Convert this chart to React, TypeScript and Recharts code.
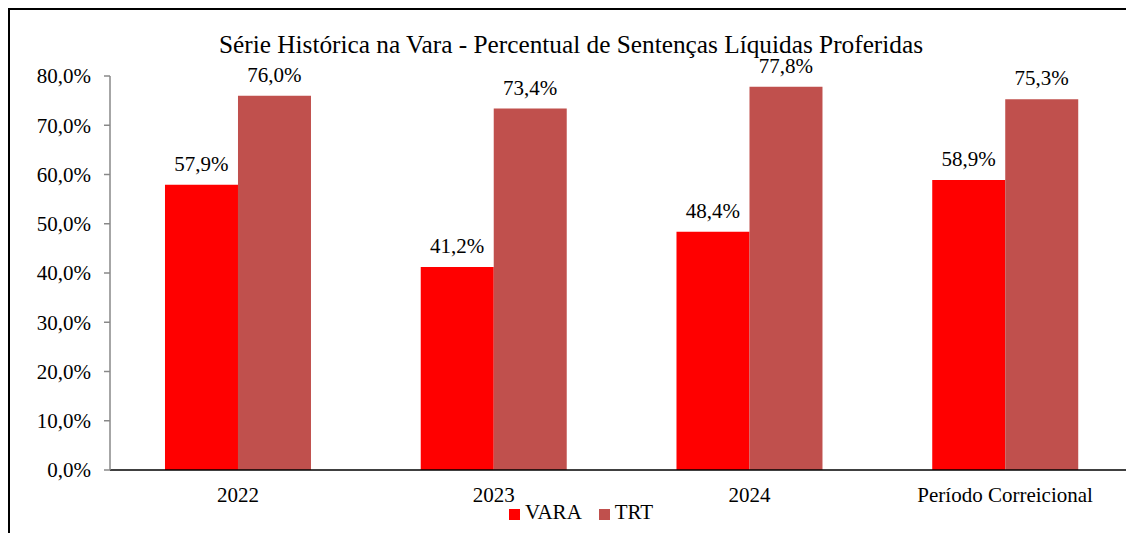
import { BarChart, Bar, XAxis, YAxis, LabelList } from "recharts";

// categories and values
const periods = ["2022", "2023", "2024", "Período Correicional"];
const vara = [57.9, 41.2, 48.4, 58.9];
const trt = [76.0, 73.4, 77.8, 75.3];
const yTicks = [0, 10, 20, 30, 40, 50, 60, 70, 80];
const boundaryTicks = [0, 1, 2, 3, 4];
const series = [
  { key: "vara", name: "VARA", color: "#FF0000" },
  { key: "trt", name: "TRT", color: "#C0504D" },
];

const data = periods.map((name, i) => ({ name, vara: vara[i], trt: trt[i] }));

const font = "'Liberation Serif', 'Times New Roman', serif";
const pct = (v: number) => `${v.toFixed(1).replace(".", ",")}%`;

export default function App() {
  return (
    <div
      style={{
        position: "relative",
        width: 1126,
        height: 525,
        borderTop: "2px solid #000",
        borderLeft: "2px solid #000",
        boxSizing: "border-box",
        fontFamily: font,
      }}
    >
      <style>{`.recharts-wrapper text { font-family: ${font} !important; }`}</style>
      <div
        style={{
          position: "absolute",
          top: 20,
          left: 0,
          width: 1122,
          textAlign: "center",
          fontSize: 25.3,
          color: "#000",
        }}
      >
        Série Histórica na Vara - Percentual de Sentenças Líquidas Proferidas
      </div>
      <div style={{ position: "absolute", top: -2, left: -2 }}>
        <BarChart
          width={1126}
          height={525}
          data={data}
          margin={{ top: 68, right: 1, bottom: 0, left: 0 }}
          barCategoryGap="21.5%"
          barGap={0}
        >
          {/* tick marks at the category boundaries, like the spreadsheet chart */}
          <XAxis
            xAxisId="edge"
            type="number"
            domain={[0, 4]}
            ticks={boundaryTicks}
            tick={false}
            axisLine={false}
            tickLine={{ stroke: "#888", strokeWidth: 1.5 }}
            tickSize={6}
            height={0}
          />
          <XAxis
            xAxisId="cat"
            dataKey="name"
            height={63}
            tick={{ fill: "#000", fontSize: 21 }}
            axisLine={{ stroke: "#000", strokeWidth: 1.5 }}
            tickLine={false}
            tickSize={6}
            tickMargin={11}
            interval={0}
          />
          <YAxis
            width={102}
            domain={[0, 80]}
            ticks={yTicks}
            tickFormatter={pct}
            tick={{ fill: "#000", fontSize: 21 }}
            axisLine={{ stroke: "#888", strokeWidth: 1.5 }}
            tickLine={{ stroke: "#888", strokeWidth: 1.5 }}
            tickSize={6}
            tickMargin={13}
          />
          {series.map((s) => (
            <Bar
              key={s.key}
              xAxisId="cat"
              dataKey={s.key}
              name={s.name}
              fill={s.color}
              isAnimationActive={false}
            >
              <LabelList
                dataKey={s.key}
                position="top"
                offset={14}
                formatter={(v: number) => pct(v)}
                style={{ fill: "#000", fontSize: 21 }}
              />
            </Bar>
          ))}
        </BarChart>
      </div>
      <div
        style={{
          position: "absolute",
          top: 490,
          left: 499,
          display: "flex",
          fontSize: 21,
          color: "#000",
        }}
      >
        {series.map((s) => (
          <div key={s.key} style={{ display: "flex", alignItems: "center", marginRight: 17 }}>
            <span
              style={{
                width: 11,
                height: 11,
                background: s.color,
                marginRight: 5,
                display: "inline-block",
                position: "relative",
                top: 2,
              }}
            />
            <span>{s.name}</span>
          </div>
        ))}
      </div>
    </div>
  );
}
